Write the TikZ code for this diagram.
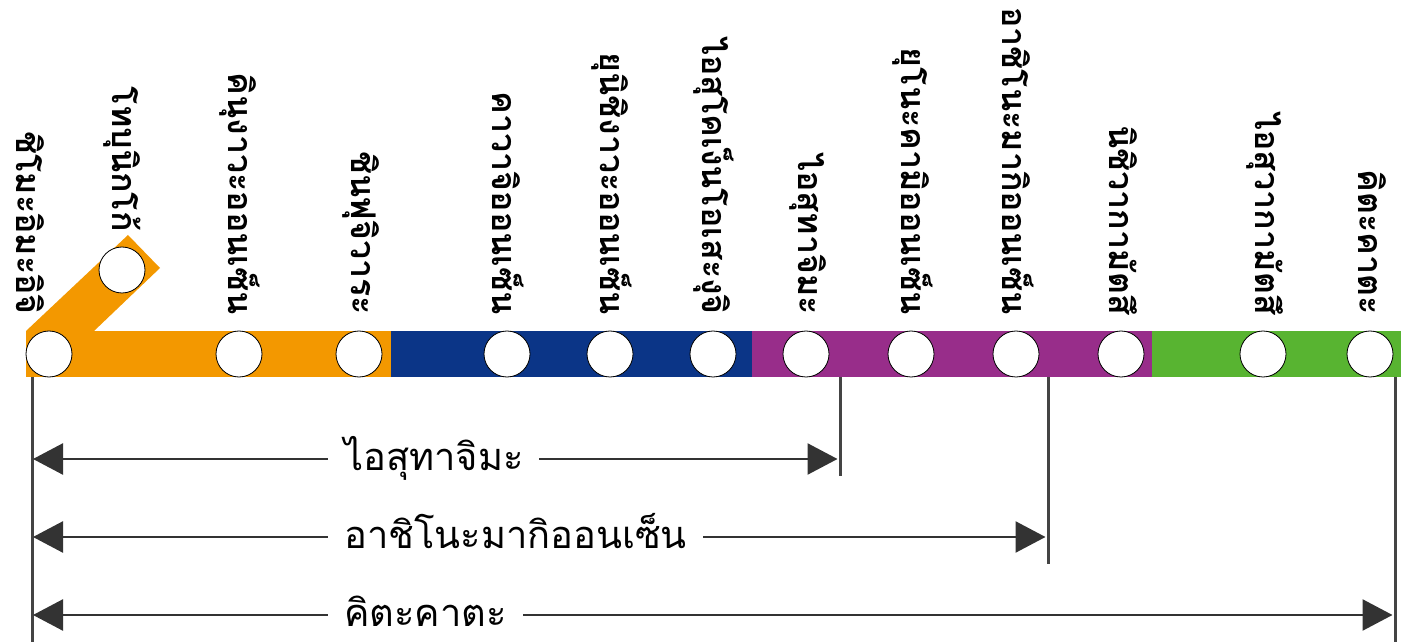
\documentclass[tikz,border=0pt]{standalone}
\usepackage{fontspec}
\newfontfamily\thai[Script=Thai]{Loma}
\usetikzlibrary{arrows.meta}
\definecolor{corange}{HTML}{F39800}
\definecolor{cblue}{HTML}{0B3587}
\definecolor{cpurple}{HTML}{982D8A}
\definecolor{cgreen}{HTML}{58B431}
\definecolor{cdark}{HTML}{333333}
\definecolor{cline}{HTML}{444444}
\begin{document}
\begin{tikzpicture}[x=1pt,y=-1pt,
 stn/.style={circle,draw=black,line width=0.8pt,fill=white,minimum size=46pt,inner sep=0pt},
 slabel/.style={rotate=-90,anchor=east,inner sep=0pt,font=\thai\bfseries\fontsize{34}{37}\selectfont},
 tick/.style={draw=cline,line width=3pt},
 dim/.style={draw=cdark,line width=2.5pt,shorten <=-0.5pt,shorten >=1pt,{Triangle[length=30pt,width=31pt]}-{Triangle[length=30pt,width=31pt]}},
 dlabel/.style={fill=white,anchor=west,inner xsep=16pt,inner ysep=0pt,text height=24pt,text depth=2pt,font=\thai\fontsize{38}{42}\selectfont}]
\useasboundingbox (0,0) rectangle (1401,644);
% line bands
\fill[corange] (26,331) rectangle (391.5,377);
\fill[corange] (26,331) -- (128,235) -- (160,268) -- (94,331) -- cycle;
\fill[cblue] (391,331) rectangle (752.5,377);
\fill[cpurple] (752,331) rectangle (1152.5,377);
\fill[cgreen] (1152,331) rectangle (1401,377);
% stations
\node[stn] (s1) at (49,354) {};
\node[stn] (s2) at (122,270) {};
\node[stn] (s3) at (239,354) {};
\node[stn] (s4) at (359,354) {};
\node[stn] (s5) at (507,354) {};
\node[stn] (s6) at (610,354) {};
\node[stn] (s7) at (713,354) {};
\node[stn] (s8) at (806,354) {};
\node[stn] (s9) at (911,354) {};
\node[stn] (s10) at (1016,354) {};
\node[stn] (s11) at (1121,354) {};
\node[stn] (s12) at (1263,354) {};
\node[stn] (s13) at (1370,354) {};
% station labels
\node[slabel] (t1) at (30,315) {ชิโมะอิมะอิจิ};
\node[slabel] (t2) at (122,232) {โทบุนิกโก้};
\node[slabel] (t3) at (240,315) {คินุงาวะออนเซ็น};
\node[slabel] (t4) at (361,315) {ชินฟุจิวาระ};
\node[slabel] (t5) at (508,315) {คาวาจิออนเซ็น};
\node[slabel] (t6) at (612,315) {ยุนิชิงาวะออนเซ็น};
\node[slabel] (t7) at (714,315) {ไอสุโคเง็นโอเสะงุจิ};
\node[slabel] (t8) at (808,315) {ไอสุทาจิมะ};
\node[slabel] (t9) at (913,315) {ยุโนะคามิออนเซ็น};
\node[slabel] (t10) at (1018,315) {อาชิโนะมากิออนเซ็น};
\node[slabel] (t11) at (1123,315) {นิชิวากามัตสึ};
\node[slabel] (t12) at (1265,315) {ไอสุวากามัตสึ};
\node[slabel] (t13) at (1372,315) {คิตะคาตะ};
% extent ticks
\coordinate (a0) at (32,377); \coordinate (a1) at (32,642);
\coordinate (b0) at (840,377); \coordinate (b1) at (840,476);
\coordinate (c0) at (1048,377); \coordinate (c1) at (1048,564);
\coordinate (d0) at (1395,377); \coordinate (d1) at (1395,642);
\draw[tick] (a0) -- (a1);
\draw[tick] (b0) -- (b1);
\draw[tick] (c0) -- (c1);
\draw[tick] (d0) -- (d1);
% dimension arrows
\coordinate (l1) at (33.5,459); \coordinate (r1) at (838.5,459);
\coordinate (l2) at (33.5,537); \coordinate (r2) at (1046.5,537);
\coordinate (l3) at (33.5,615); \coordinate (r3) at (1393.5,615);
\draw[dim] (l1) -- (r1);
\draw[dim] (l2) -- (r2);
\draw[dim] (l3) -- (r3);
\node[dlabel] (d1l) at (328,459) {ไอสุทาจิมะ};
\node[dlabel] (d2l) at (328,537) {อาชิโนะมากิออนเซ็น};
\node[dlabel] (d3l) at (328,615) {คิตะคาตะ};
\end{tikzpicture}
\end{document}
